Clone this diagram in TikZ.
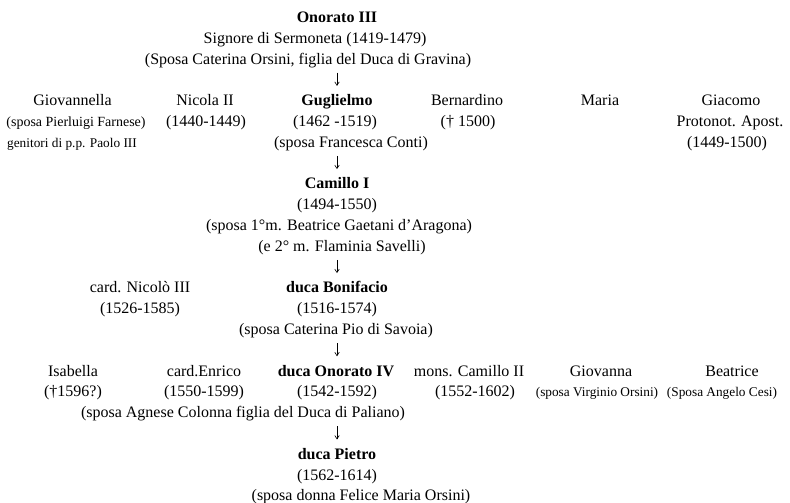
\documentclass[tikz,border=0pt]{standalone}
\usepackage{fontspec}
\setmainfont{Liberation Serif}
\usetikzlibrary{arrows.meta,calc}
\tikzset{
  txt/.style={anchor=base,inner sep=0pt,font=\fontsize{16}{19}\selectfont},
  bold/.style={txt,font=\fontsize{16}{19}\selectfont\bfseries},
  sml/.style={txt,font=\fontsize{13.3}{16}\selectfont},
  smlb/.style={txt,font=\fontsize{14}{16}\selectfont},
  arr/.style={line width=0.6pt,-{Straight Barb[length=3.5pt,width=4.5pt]}}
}
\begin{document}
\begin{tikzpicture}[x=1pt,y=-1pt]
\useasboundingbox (0,0) rectangle (790,503);
% row k baseline = 22.5 + 20.8 k
\node[bold] (on3) at (337,22.5) {Onorato III};
\node[txt] (on3a) at (315,43.3) {Signore di Sermoneta (1419-1479)};
\node[txt] (on3b) at (308,64.1) {(Sposa Caterina Orsini, figlia del Duca di Gravina)};
% row 4-6
\node[txt] (giov) at (72.5,105.7) {Giovannella};
\node[smlb] (giova) at (76,126.5) {(sposa Pierluigi Farnese)};
\node[sml] (giovb) at (72,147.3) {genitori di p.p. Paolo III};
\node[txt] (nic) at (205,105.7) {Nicola II};
\node[txt] (nica) at (206,126.5) {(1440-1449)};
\node[bold] (gug) at (337,105.7) {Guglielmo};
\node[txt] (guga) at (335,126.5) {(1462 -1519)};
\node[txt] (gugb) at (351,147.3) {(sposa Francesca Conti)};
\node[txt] (ber) at (467,105.7) {Bernardino};
\node[txt] (bera) at (468,126.5) {(† 1500)};
\node[txt] (mar) at (600,105.7) {Maria};
\node[txt] (gia) at (731,105.7) {Giacomo};
\node[txt] (giaa) at (730,126.5) {Protonot. Apost.};
\node[txt] (giab) at (727,147.3) {(1449-1500)};
% rows 8-11
\node[bold] (cam) at (337,188.9) {Camillo I};
\node[txt] (cama) at (337,209.7) {(1494-1550)};
\node[txt] (camb) at (339,230.5) {(sposa 1°m. Beatrice Gaetani d’Aragona)};
\node[txt] (camc) at (342,251.3) {(e 2° m. Flaminia Savelli)};
% rows 13-15
\node[txt] (nic3) at (140,292.9) {card. Nicolò III};
\node[txt] (nic3a) at (140,313.7) {(1526-1585)};
\node[bold] (bon) at (337,292.9) {duca Bonifacio};
\node[txt] (bona) at (337,313.7) {(1516-1574)};
\node[txt] (bonb) at (336,334.5) {(sposa Caterina Pio di Savoia)};
% rows 17-19
\node[txt] (isa) at (73,376.1) {Isabella};
\node[txt] (isaa) at (73,396.9) {(†1596?)};
\node[txt] (enr) at (204,376.1) {card.Enrico};
\node[txt] (enra) at (204,396.9) {(1550-1599)};
\node[bold] (on4) at (336,376.1) {duca Onorato IV};
\node[txt] (on4a) at (337,396.9) {(1542-1592)};
\node[txt] (on4b) at (243,417.7) {(sposa Agnese Colonna figlia del Duca di Paliano)};
\node[txt] (cm2) at (469,376.1) {mons. Camillo II};
\node[txt] (cm2a) at (475,396.9) {(1552-1602)};
\node[txt] (gvn) at (601,376.1) {Giovanna};
\node[sml] (gvna) at (597,396.9) {(sposa Virginio Orsini)};
\node[txt] (bea) at (732,376.1) {Beatrice};
\node[sml] (beaa) at (722,396.9) {(Sposa Angelo Cesi)};
% rows 21-23
\node[bold] (pie) at (337,459.3) {duca Pietro};
\node[txt] (piea) at (337,480.1) {(1562-1614)};
\node[txt] (pieb) at (361,500.9) {(sposa donna Felice Maria Orsini)};
% descent arrows
\draw[arr] ($(on3b.base -| gug.base)+(0,8.5)$) -- ($(gug.base)+(0,-19.8)$);
\draw[arr] ($(gugb.base -| cam.base)+(0,8.5)$) -- ($(cam.base)+(0,-19.8)$);
\draw[arr] ($(camc.base -| bon.base)+(0,8.5)$) -- ($(bon.base)+(0,-19.8)$);
\draw[arr] ($(bonb.base -| cama.base)+(0,8.5)$) -- ($(on4a.base)+(0,-40.6)$);
\draw[arr] ($(on4b.base -| pie.base)+(0,8.5)$) -- ($(pie.base)+(0,-19.8)$);
\end{tikzpicture}
\end{document}
